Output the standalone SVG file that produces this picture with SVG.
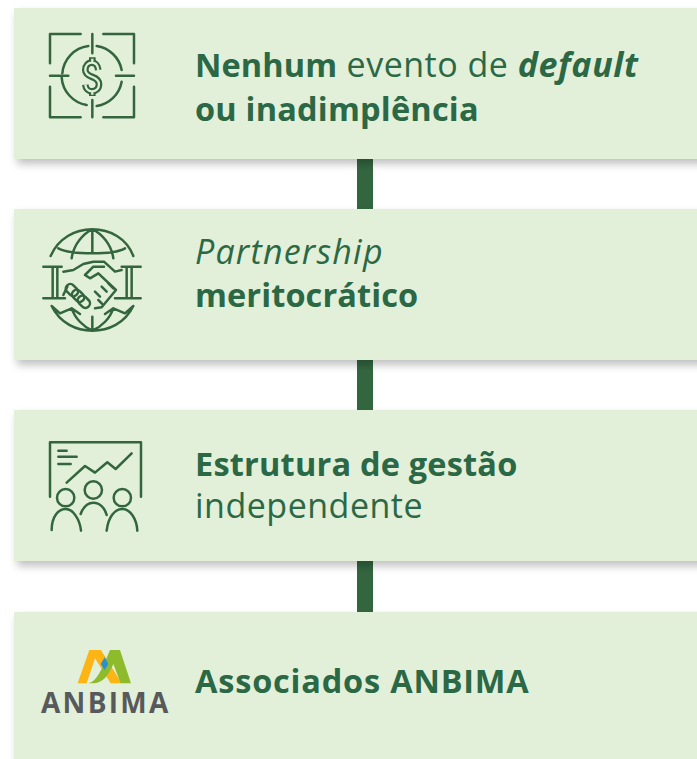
<svg xmlns="http://www.w3.org/2000/svg" width="697" height="759" viewBox="0 0 697 759">
<style>
.box{fill:#e2efd9;filter:url(#sh)}
.bar{fill:#33663f}
.t{font-family:"Open Sans","Noto Sans",sans-serif;font-size:34px;letter-spacing:.5px;fill:#2b6845}
.b{font-weight:700;font-size:32.5px;letter-spacing:.1px}
.i{font-style:italic;letter-spacing:1.2px}
.bi{font-style:italic;font-weight:700;font-size:34px;letter-spacing:.6px}
.ic{fill:none;stroke:#33663f;stroke-width:7.5;stroke-linecap:round;stroke-linejoin:round}
</style>
<defs>
<filter id="sh" x="-5%" y="-10%" width="110%" height="130%"><feGaussianBlur in="SourceAlpha" stdDeviation="4"/><feOffset dx="3" dy="5"/><feComponentTransfer><feFuncA type="linear" slope="0.25"/></feComponentTransfer><feMerge><feMergeNode/><feMergeNode in="SourceGraphic"/></feMerge></filter>
</defs>
<g id="connectors">
<rect class="bar" x="357" y="155" width="16" height="55"/>
<rect class="bar" x="357" y="356" width="16" height="55"/>
<rect class="bar" x="357" y="557" width="16" height="56"/>
</g>
<g id="node1">
<rect class="box" x="14" y="8" width="700" height="151"/>
<g class="ic" transform="translate(30,20) scale(.3333)">
<path d="M152 42H60V130M220 42H312V130M60 200V292H152M312 200V292H220M187 42V100M187 240V292M60 167H115M258 167H312"/>
<path d="M175 78A90 90 0 0 0 97 160M200 78A90 90 0 0 1 275 150M275 185A90 90 0 0 1 200 258M95 172A90 90 0 0 0 170 255"/>
<path d="M205 150C203 135 195 128 186 128C174 128 166 137 166 150C166 162 176 167 187 171C198 175 207 181 207 193C207 206 198 214 186 214C175 214 167 206 166 194M187 112V128M187 214V228" stroke-width="20" stroke-linecap="butt"/>
<path d="M205 150C203 135 195 128 186 128C174 128 166 137 166 150C166 162 176 167 187 171C198 175 207 181 207 193C207 206 198 214 186 214C175 214 167 206 166 194M187 116V128M187 214V224" stroke="#e2efd9" stroke-width="7" stroke-linecap="butt"/>
</g>
<text class="t" x="195" y="77"><tspan class="b">Nenhum</tspan> evento de <tspan class="bi">default</tspan></text>
<text class="t b" x="195" y="121" style="letter-spacing:.2px">ou inadimplência</text>
</g>
<g id="node2">
<rect class="box" x="14" y="209" width="700" height="151"/>
<g class="ic" transform="translate(30,220) scale(.3333)">
<path d="M62 108C85 55 135 28 187 28C240 28 290 55 310 108M85 85C125 105 250 105 285 85M125 115C130 75 160 40 187 28C215 40 245 75 250 115M187 28V98"/>
<path d="M65 258C90 310 140 332 187 332C235 332 285 310 310 258M65 258L90 280L125 265C135 295 160 320 187 332C215 320 240 295 250 265L285 280L310 258M187 290V332M125 265L150 282M250 265L225 282"/>
<path d="M40 140H95M40 235H105M68 140V235M82 140V235M275 140H332M255 235H332M290 140V235M305 140V235"/>
<path d="M100 155L130 150L160 132L190 125H222L255 155L275 150"/>
<path d="M222 140H190L165 165L180 175L205 160L258 210L215 262L195 265"/>
<path d="M195 215L210 230M215 200L230 215M235 190L250 205M205 240L218 253"/>
<rect x="106" y="197" width="40" height="27" rx="13" transform="rotate(45 126 210)"/>
<rect x="124" y="214" width="40" height="27" rx="13" transform="rotate(45 144 228)"/>
<rect x="142" y="232" width="40" height="27" rx="13" transform="rotate(45 162 245)"/>
<path d="M100 225L112 200"/>
</g>
<text class="t i" x="195" y="264">Partnership</text>
<text class="t b" x="195" y="307">meritocrático</text>
</g>
<g id="node3">
<rect class="box" x="14" y="410" width="700" height="151"/>
<g class="ic" transform="translate(30,430) scale(.3333)">
<path d="M60 200V37H333V200M85 62H110M85 80H140M85 102H122M110 158L165 108L195 128L232 97L257 117L305 70"/>
<circle cx="107" cy="203" r="26"/><circle cx="190" cy="180" r="26"/><circle cx="277" cy="203" r="26"/>
<path d="M65 300C65 260 85 237 107 237C130 237 150 270 153 302M152 252C160 230 175 218 190 218C210 218 225 235 230 255M230 302C235 260 255 237 277 237C300 237 320 265 322 302"/>
</g>
<text class="t b" x="195" y="476" style="letter-spacing:.2px">Estrutura de gestão</text>
<text class="t" x="195" y="518">independente</text>
</g>
<g id="node4">
<rect class="box" x="14" y="612" width="700" height="160"/>
<g transform="translate(30,640) scale(.3333)">
<path d="M143 130L178 30H213L275 130H242L195 55L170 130Z" fill="#fdb515"/>
<path d="M175 130C200 125 215 90 240 30H270L303 130H272L250 72C235 110 215 130 190 130Z" fill="#8dbb2c"/>
<path d="M224 52L235 72L224 90L212 72Z" fill="#2c8fd0"/>
</g>
<text x="41" y="713" font-family="Open Sans,sans-serif" font-weight="700" font-size="28" letter-spacing="2.3" fill="#58595b">ANBIMA</text>
<text class="t b" x="195" y="693" style="letter-spacing:.8px">Associados ANBIMA</text>
</g>
</svg>
